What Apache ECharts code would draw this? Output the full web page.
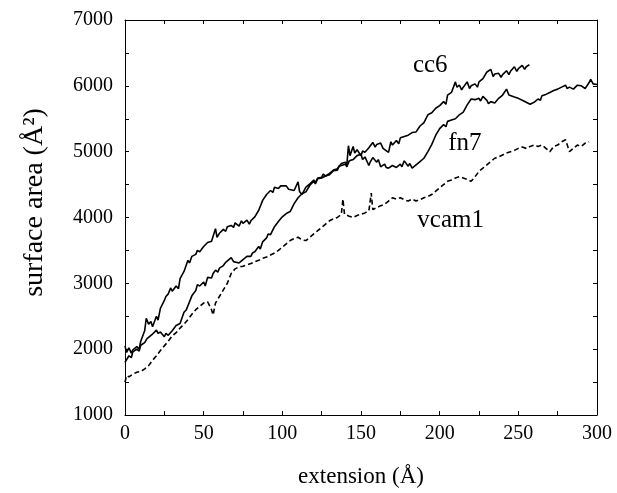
<!DOCTYPE html>
<html>
<head>
<meta charset="utf-8">
<title>surface area vs extension</title>
<script src="https://cdn.jsdelivr.net/npm/echarts@6/dist/echarts.min.js"></script>
<style>
  html, body { margin: 0; padding: 0; background: #fff; }
  #chart { width: 617px; height: 493px; }
</style>
</head>
<body>
<div id="chart"></div>
<script>
// [extension (Å), surface area (Å^2)]
var cc6 = [
  [0,2050],[1,1950],[2.5,2020],[4,1940],[5,1990],[7.5,2040],[9,2000],[10,2120],[12.5,2280],[13.5,2470],[15,2380],[16.5,2420],[17.5,2340],
  [20,2500],[21,2440],[22.5,2620],[25,2740],[26,2800],[27.5,2840],[29,2930],[30,2880],[32.5,2960],[34,2920],[35,3070],[37.5,3180],[40,3350],[41,3310],[42.5,3410],
  [45,3440],[46,3500],[47.5,3480],[50,3560],[51,3530],[52.5,3620],[55,3640],[57.5,3830],[58.5,3700],[60,3760],[61,3730],[62.5,3820],[64,3790],[65,3860],
  [67.5,3880],[69,3850],[70,3920],[72.5,3870],[74,3950],[75,3910],[77.5,3960],[79,3900],[80,3950],[82.5,4010],[85,4110],[87.5,4260],[90,4350],
  [92.5,4410],[94,4380],[95,4460],[97.5,4440],[99,4480],[100,4450],[102.5,4480],[104,4430],[105,4450],[107.5,4410],[110,4540],[111,4390],[112.5,4350],
  [115,4460],[116,4430],[117.5,4510],[120,4570],[121,4530],[122.5,4600],[125,4610],[126,4660],[127.5,4630],[130,4670],[131,4640],[132.5,4720],[135,4740],[137.5,4820],
  [140,4840],[141,4800],[142,5090],[143,4940],[145,5080],[146,4980],[147.5,5030],[150,4940],[151,5010],[152.5,4990],[155,5060],[157.5,5140],[159,5070],[160,5110],
  [162.5,5130],[164,5050],[165,5070],[167.5,4990],[169,5150],[170,5100],[172.5,5170],[174,5120],[175,5210],[177.5,5230],[180,5250],[182.5,5290],[185,5300],
  [187.5,5390],[190,5440],[192.5,5560],[195,5590],[197.5,5660],[200,5700],[202.5,5760],[204,5720],[205,5860],[207.5,5900],[210,6060],[211,5980],
  [212.5,6010],[214,5940],[215,5980],[217.5,6060],[219,5960],[220,6000],[222.5,6030],[224,5980],[225,6060],[227.5,6110],[230,6210],[232.5,6250],[234,6140],[235,6180],
  [237.5,6190],[239,6130],[240,6170],[242.5,6230],[244,6170],[245,6220],[247.5,6290],[249,6220],[250,6260],[252.5,6310],[254,6250],[255,6290],[257,6320]
];
var fn7 = [
  [0,1800],[2.5,1900],[4,1870],[5,1960],[7.5,2000],[9,1970],[10,2060],[12.5,2100],[14,2160],[15,2130],[17.5,2230],[20,2290],[21,2240],[22.5,2260],
  [25,2190],[26,2240],[27.5,2210],[30,2280],[31,2250],[32.5,2360],[35,2390],[37.5,2560],[39,2600],[40,2660],[42.5,2810],[45,2890],[46,2980],[47.5,2960],
  [50,3020],[51,2960],[52.5,3090],[55,3080],[56,3150],[57.5,3200],[59,3170],[60,3230],[62.5,3270],[64,3320],[65,3290],[67.5,3390],[69,3330],[70,3360],[72.5,3310],
  [75,3360],[76,3330],[77.5,3410],[80,3410],[81,3460],[82.5,3480],[85,3560],[86,3520],[87.5,3630],[90,3690],[91,3750],[92.5,3740],[95,3860],[97.5,3940],
  [100,4010],[101,3980],[102.5,4060],[105,4090],[107.5,4210],[110,4300],[111,4270],[112.5,4360],[115,4390],[117.5,4490],[120,4550],[121,4510],[122.5,4590],
  [125,4600],[126,4570],[127.5,4630],[130,4650],[131,4620],[132.5,4710],[135,4720],[136,4780],[137.5,4790],[140,4810],[141,4770],[142.5,4860],[145,4880],[147.5,4940],
  [150,4960],[151,4880],[152.5,4920],[155,4790],[156,4850],[157.5,4910],[160,4840],[161,4880],[162.5,4770],[165,4810],[166,4760],[167.5,4750],[170,4790],[172.5,4760],
  [175,4810],[176,4770],[177.5,4860],[180,4780],[181,4820],[182.5,4750],[185,4800],[187.5,4850],[190,4900],[192.5,5000],[195,5110],[197.5,5250],
  [200,5350],[202.5,5410],[204,5380],[205,5460],[207.5,5480],[210,5500],[212.5,5560],[215,5600],[217.5,5710],[220,5800],[221,5770],[222.5,5790],
  [225,5810],[226,5770],[227.5,5840],[230,5780],[231,5730],[232.5,5760],[235,5740],[237.5,5810],[240,5860],[242.5,5950],[244,5860],[245,5870],[247.5,5830],
  [250,5810],[252.5,5780],[255,5750],[257.5,5720],[260,5750],[262.5,5800],[264,5780],[265,5850],[267.5,5870],[270,5900],[271,5870],[272.5,5930],
  [275,5950],[277.5,5980],[280,6010],[281,5960],[282.5,5980],[285,5950],[287.5,6010],[290,6000],[292.5,5960],[295,6050],[296,6100],
  [297.5,6030],[300,6020]
];
var vcam1 = [
  [0,1500],[1,1600],[2.5,1580],[5,1620],[7.5,1650],[10,1660],[12.5,1700],[15,1750],[17.5,1830],[20,1900],
  [22.5,1980],[25,2050],[27.5,2120],[30,2200],[32.5,2250],[35,2320],[37.5,2380],[40,2450],[42.5,2530],[45,2600],
  [47.5,2650],[50,2700],[52.5,2720],[55,2600],[56,2520],[57.5,2700],[60,2800],[62.5,2900],[65,3000],[67.5,3150],
  [70,3220],[72.5,3250],[75,3260],[77.5,3280],[80,3300],[82.5,3330],[85,3350],[87.5,3380],[90,3400],[92.5,3430],
  [95,3460],[97.5,3500],[100,3550],[102.5,3600],[105,3650],[107.5,3680],[110,3700],[112.5,3660],[115,3650],[117.5,3700],
  [120,3750],[122.5,3800],[125,3850],[127.5,3900],[130,3950],[132.5,3980],[135,4000],[137.5,4050],[138.5,4280],[139.5,4050],
  [142.5,4020],[145,4000],[147.5,4030],[150,4050],[152.5,4070],[155,4100],[156.5,4370],[157.5,4120],[160,4150],[162.5,4180],
  [165,4200],[167.5,4250],[170,4300],[172.5,4280],[175,4300],[177.5,4270],[180,4250],[182.5,4280],[185,4250],[187.5,4270],
  [190,4300],[192.5,4320],[195,4350],[197.5,4400],[200,4450],[202.5,4500],[205,4550],[207.5,4570],[210,4600],[212.5,4620],
  [215,4600],[217.5,4580],[220,4550],[222.5,4620],[225,4700],[227.5,4750],[230,4800],[232.5,4850],[235,4900],[237.5,4920],
  [240,4950],[242.5,4980],[245,5000],[247.5,5020],[250,5050],[252.5,5070],[255,5050],[257.5,5080],[260,5100],[262.5,5080],
  [265,5100],[267.5,5050],[270,5000],[272.5,5080],[275,5100],[277.5,5150],[280,5180],[282.5,5000],[285,5050],[287.5,5100],
  [290,5080],[292.5,5130],[295,5150]
];

// curve labels, placed in data units
var curveNames = ['cc6', 'fn7', 'vcam1'];
var curveLabelX = [194, 216, 207];
var curveLabelY = [6310, 5130, 3960];

var FONT = '"Liberation Serif", "Times New Roman", serif';

var myChart = echarts.init(document.getElementById('chart'));

function plain(v) { return String(v); }

function baseX(pos, showLabel) {
    return {
        type: 'value', position: pos, min: 0, max: 300, interval: 50,
        name: showLabel ? 'extension (Å)' : '',
        nameLocation: 'middle', nameGap: 50,
        nameTextStyle: { fontFamily: FONT, fontSize: 23, color: '#000' },
        axisLine: { onZero: false, lineStyle: { color: '#000', width: 1 } },
        axisTick: { inside: true, length: 4, lineStyle: { color: '#000' } },
        minorTick: { show: true, splitNumber: 2, length: 4, lineStyle: { color: '#000' } },
        axisLabel: { show: showLabel, margin: 9, formatter: plain, fontFamily: FONT, fontSize: 20, color: '#000' },
        splitLine: { show: false }
    };
}
function baseY(pos, showLabel) {
    return {
        type: 'value', position: pos, min: 1000, max: 7000, interval: 1000,
        name: showLabel ? 'surface area (Å²)' : '',
        nameLocation: 'middle', nameGap: 76, nameRotate: 90,
        nameTextStyle: { fontFamily: FONT, fontSize: 28, color: '#000', padding: [0, 0, 0, 30] },
        axisLine: { onZero: false, lineStyle: { color: '#000', width: 1 } },
        axisTick: { inside: true, length: 4, lineStyle: { color: '#000' } },
        minorTick: { show: true, splitNumber: 2, length: 4, lineStyle: { color: '#000' } },
        axisLabel: { show: showLabel, margin: 12, formatter: plain, fontFamily: FONT, fontSize: 20, color: '#000' },
        splitLine: { show: false }
    };
}

function lineSeries(name, data, dashed) {
    return {
        name: name, type: 'line', data: data, symbol: 'none', animation: false,
        xAxisIndex: 0, yAxisIndex: 0,
        lineStyle: { color: '#000', width: 1.6, type: dashed ? [5, 3] : 'solid' }
    };
}

var option = {
    backgroundColor: '#fff',
    animation: false,
    grid: { left: 125, right: 20, top: 20, bottom: 76 },
    xAxis: [baseX('bottom', true), baseX('top', false)],
    yAxis: [baseY('left', true), baseY('right', false)],
    series: [
        lineSeries('cc6', cc6, false),
        lineSeries('fn7', fn7, false),
        lineSeries('vcam1', vcam1, true)
    ]
};
myChart.setOption(option);

// curve name texts
var texts = curveNames.map(function (n, i) {
    var p = myChart.convertToPixel({ xAxisIndex: 0, yAxisIndex: 0 }, [curveLabelX[i], curveLabelY[i]]);
    return {
        type: 'text', x: p[0], y: p[1],
        style: { text: n, fontFamily: FONT, fontSize: 25, fill: '#000', align: 'center', verticalAlign: 'middle' }
    };
});
myChart.setOption({ graphic: texts });
</script>
</body>
</html>
